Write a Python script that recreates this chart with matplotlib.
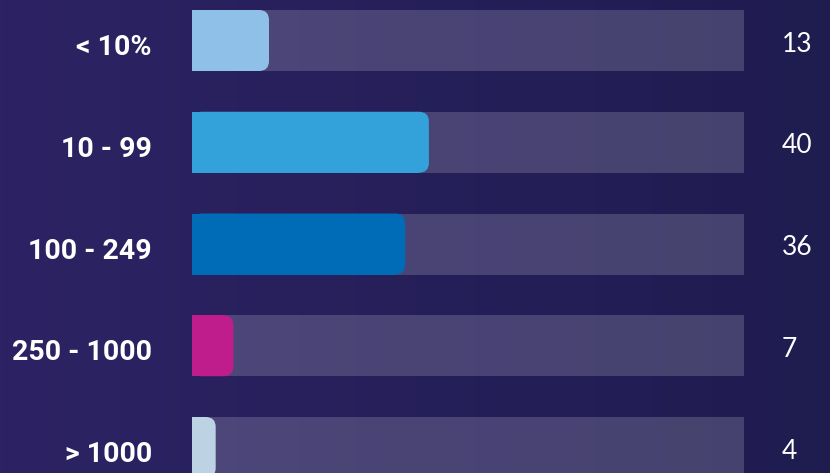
import numpy as np
import matplotlib.pyplot as plt
from matplotlib.patches import FancyBboxPatch, Rectangle
from matplotlib.colors import LinearSegmentedColormap

# data
categories = ['< 10%', '10 - 99', '100 - 249', '250 - 1000', '> 1000']
values = [13, 40, 36, 7, 4]
bar_colors = ['#8fc0e8', '#33a2db', '#006bb7', '#bf1d8b', '#bdd3e4']
track_max = 93.2

W, H = 830, 473
fig = plt.figure(figsize=(W / 100, H / 100), dpi=100)

# background gradient
bg = fig.add_axes([0, 0, 1, 1])
grad = np.linspace(0, 1, 256).reshape(1, -1)
cmap = LinearSegmentedColormap.from_list('bg', ['#2d2364', '#1f1c50'])
bg.imshow(grad, aspect='auto', cmap=cmap, extent=[0, 1, 0, 1])
bg.set_axis_off()

# main axes, track spans x 192..744 px
x0, x1 = 192, 744
pitch = 101.75
c0 = 40.5
ytop = -c0 / pitch
ybot = (H - c0) / pitch
ax = fig.add_axes([x0 / W, 0, (x1 - x0) / W, 1])
ax.set_xlim(0, track_max)
ax.set_ylim(ybot, ytop)
ax.set_axis_off()
ax.patch.set_alpha(0)

bh = 61 / pitch
y = np.arange(len(categories))
ax.barh(y, track_max, height=bh, color='white', alpha=0.17, linewidth=0)

px_x = (x1 - x0) / track_max
r_px = 10
r = r_px / px_x
aspect = (r_px / pitch) / r
for yi, v, c in zip(y, values, bar_colors):
    ax.add_patch(FancyBboxPatch((0, yi - bh / 2), v, bh,
                                boxstyle=f'round,pad=0,rounding_size={r}',
                                mutation_aspect=aspect, facecolor=c,
                                edgecolor='none'))
    ax.add_patch(Rectangle((0, yi - bh / 2), v - r, bh, facecolor=c,
                           edgecolor='none'))

# labels
for yi, lab in zip(y, categories):
    ax.text((152 - x0) / px_x, yi + 14.5 / pitch, lab, ha='right',
            va='baseline', color='white', fontsize=20.5, fontweight='bold',
            family='Roboto', clip_on=False)

for yi, v in zip(y, values):
    ax.text((782 - x0) / px_x, yi + 11 / pitch, str(v), ha='left',
            va='baseline', color='white', fontsize=19, fontweight='normal',
            family='Lato', clip_on=False)

fig.savefig('out.png', dpi=100)
